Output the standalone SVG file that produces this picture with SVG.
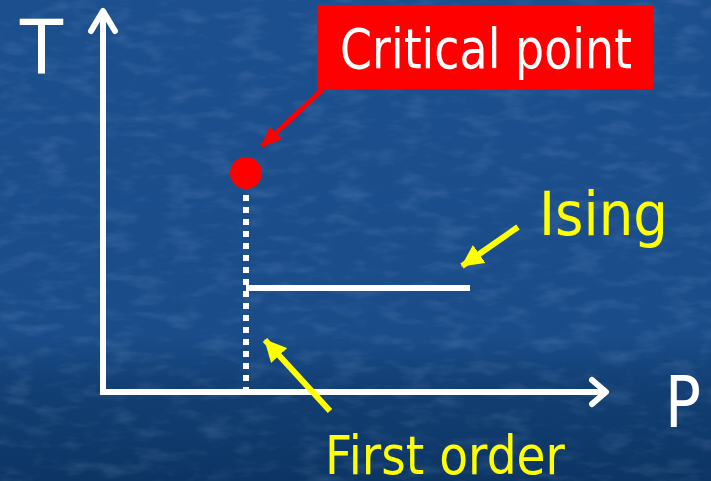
<svg xmlns="http://www.w3.org/2000/svg" width="711" height="481" viewBox="0 0 711 481">
  <defs>
    <linearGradient id="bg" x1="0" y1="0" x2="0" y2="1">
      <stop offset="0" stop-color="#1c4f8e"/>
      <stop offset="0.7" stop-color="#1a4c89"/>
      <stop offset="0.8" stop-color="#123f74"/>
      <stop offset="1" stop-color="#0c3564"/>
    </linearGradient>
    <filter id="tex" x="0" y="0" width="100%" height="100%">
      <feTurbulence type="fractalNoise" baseFrequency="0.03 0.08" numOctaves="3" seed="4" result="n"/>
      <feColorMatrix type="matrix" values="0 0 0 0 0.45  0 0 0 0 0.65  0 0 0 0 0.95  0 0 0 1.6 -0.75"/>
    </filter>
    <marker id="ahRed" markerWidth="20" markerHeight="18" refX="19" refY="9" orient="auto" markerUnits="userSpaceOnUse" viewBox="0 0 20 18">
      <path d="M0,0 L20,9 L0,18 Z" fill="#ff0000"/>
    </marker>
    <marker id="ahYel" markerWidth="22" markerHeight="22" refX="21" refY="11" orient="auto" markerUnits="userSpaceOnUse" viewBox="0 0 22 22">
      <path d="M0,0 L22,11 L0,22 Z" fill="#ffff00"/>
    </marker>
    <style>
      .lbl { font-family: "DejaVu Sans", Tahoma, Verdana, sans-serif; }
      .white { fill: #ffffff; }
      .yellow { fill: #ffff00; }
      .axis { stroke: #ffffff; stroke-width: 6; fill: none; }
      .chev { stroke: #ffffff; stroke-width: 6; fill: none; stroke-linecap: round; stroke-linejoin: round; }
    </style>
  </defs>

  <rect width="711" height="481" fill="url(#bg)"/>
  <rect width="711" height="481" filter="url(#tex)" opacity="0.2"/>

  <g id="axes">
    <line class="axis" x1="103" y1="392" x2="103" y2="12"/>
    <polyline class="chev" points="91,31 103,11 115,31"/>
    <line class="axis" x1="100" y1="392" x2="605" y2="392"/>
    <polyline class="chev" points="592,380 606,392 592,404"/>
  </g>

  <g id="axis-labels">
    <text class="lbl white" x="20" y="73" font-size="75" textLength="43" lengthAdjust="spacingAndGlyphs">T</text>
    <text class="lbl white" x="665" y="427" font-size="72" textLength="36" lengthAdjust="spacingAndGlyphs">P</text>
  </g>

  <g id="phase-lines">
    <line x1="246" y1="195" x2="246" y2="390" stroke="#ffffff" stroke-width="6" stroke-dasharray="6 6"/>
    <line x1="246" y1="288" x2="470" y2="288" stroke="#ffffff" stroke-width="6"/>
  </g>

  <g id="critical-point-dot">
    <circle cx="246" cy="173" r="16" fill="#ff0000"/>
  </g>

  <g id="critical-point-label">
    <rect x="317" y="5" width="336" height="84" fill="#ff0000"/>
    <text class="lbl white" x="340" y="68" font-size="55" textLength="292" lengthAdjust="spacingAndGlyphs">Critical point</text>
  </g>

  <g id="ising-label">
    <text class="lbl yellow" x="539" y="235" font-size="60" textLength="129" lengthAdjust="spacingAndGlyphs">Ising</text>
  </g>

  <g id="first-order-label">
    <text class="lbl yellow" x="325" y="474" font-size="53" textLength="240" lengthAdjust="spacingAndGlyphs">First order</text>
  </g>

  <g id="connectors">
    <line x1="323" y1="89" x2="262" y2="146" stroke="#ff0000" stroke-width="5" marker-end="url(#ahRed)"/>
    <line x1="518" y1="227" x2="462" y2="266" stroke="#ffff00" stroke-width="6" marker-end="url(#ahYel)"/>
    <line x1="330" y1="411" x2="265" y2="340" stroke="#ffff00" stroke-width="6" marker-end="url(#ahYel)"/>
  </g>
</svg>
